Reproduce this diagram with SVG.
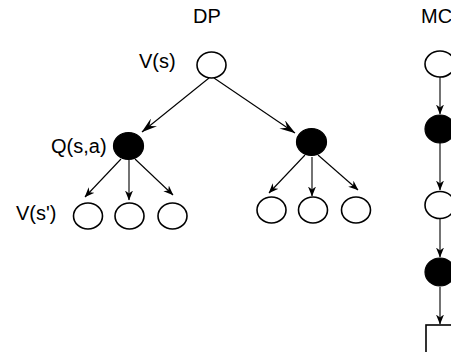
<svg xmlns="http://www.w3.org/2000/svg" width="451" height="352" viewBox="0 0 451 352">
<style>
text{font-family:"Liberation Sans",Arial,sans-serif;font-size:20px;fill:#000}
.w{fill:#fff;stroke:#000;stroke-width:1.6}
.b{fill:#000;stroke:#000;stroke-width:1.2}
.c{stroke:#000;stroke-width:1.1;fill:none}
.big{marker-end:url(#ah)}
.sm{marker-end:url(#as)}
</style>
<defs>
<marker id="ah" viewBox="0 0 16 10" refX="15.5" refY="5" markerWidth="16" markerHeight="10" markerUnits="userSpaceOnUse" orient="auto">
<path d="M0,0 L16,5 L0,10 L6,5 Z" fill="#000"/>
</marker>
<marker id="as" viewBox="0 0 10 8" refX="9.5" refY="4" markerWidth="10" markerHeight="8" markerUnits="userSpaceOnUse" orient="auto">
<path d="M0,0 L10,4 L0,8 L3,4 Z" fill="#000"/>
</marker>
</defs>
<g id="labels">
<text x="193" y="23">DP</text>
<text x="421" y="23">MC</text>
<text x="139" y="68">V(s)</text>
<text x="51" y="153">Q(s,a)</text>
<text x="16" y="220">V(s')</text>
</g>
<g id="connectors">
<line class="c big" x1="209" y1="78" x2="142" y2="132"/>
<line class="c big" x1="214" y1="78" x2="295" y2="133"/>
<line class="c sm" x1="121" y1="159" x2="85" y2="197"/>
<line class="c sm" x1="129" y1="160" x2="129" y2="200"/>
<line class="c sm" x1="135" y1="159" x2="173" y2="195"/>
<line class="c sm" x1="305" y1="155" x2="269" y2="193"/>
<line class="c sm" x1="312" y1="157" x2="312" y2="196"/>
<line class="c sm" x1="318" y1="155" x2="358" y2="190"/>
<line class="c sm" x1="440" y1="77" x2="440" y2="114"/>
<line class="c sm" x1="440" y1="143" x2="440" y2="190"/>
<line class="c sm" x1="440" y1="219" x2="440" y2="257"/>
<line class="c sm" x1="440" y1="287" x2="440" y2="324"/>
</g>
<g id="dp-root"><ellipse class="w" cx="211.5" cy="65" rx="14.5" ry="13"/></g>
<g id="dp-q1"><ellipse class="b" cx="128.5" cy="146" rx="15" ry="13.5"/></g>
<g id="dp-q2"><ellipse class="b" cx="311.5" cy="142" rx="15" ry="13.5"/></g>
<g id="dp-l1"><ellipse class="w" cx="88" cy="216" rx="14.5" ry="13"/></g>
<g id="dp-l2"><ellipse class="w" cx="129.5" cy="216" rx="14.5" ry="13"/></g>
<g id="dp-l3"><ellipse class="w" cx="172.5" cy="216" rx="14.5" ry="13"/></g>
<g id="dp-r1"><ellipse class="w" cx="271.5" cy="210" rx="14.5" ry="13"/></g>
<g id="dp-r2"><ellipse class="w" cx="313" cy="210" rx="14.5" ry="13"/></g>
<g id="dp-r3"><ellipse class="w" cx="356" cy="210" rx="14.5" ry="13"/></g>
<g id="mc-s1"><ellipse class="w" cx="440" cy="64" rx="15" ry="13"/></g>
<g id="mc-a1"><ellipse class="b" cx="440" cy="129" rx="15" ry="14"/></g>
<g id="mc-s2"><ellipse class="w" cx="440" cy="205" rx="15" ry="13.5"/></g>
<g id="mc-a2"><ellipse class="b" cx="440" cy="272" rx="15" ry="14"/></g>
<g id="mc-end"><rect class="w" x="426" y="325" width="40" height="40"/></g>
</svg>
